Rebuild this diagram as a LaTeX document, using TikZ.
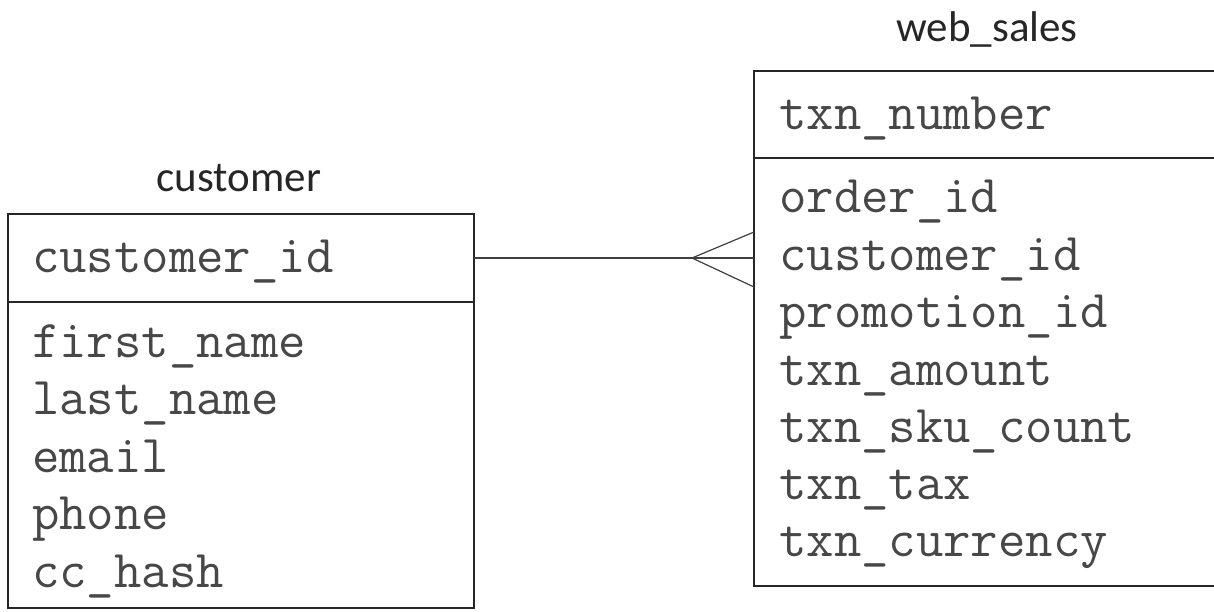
\documentclass[tikz,border=0pt]{standalone}
\usepackage{fontspec}
\setmainfont{Carlito}
\begin{document}
\begin{tikzpicture}[x=1pt,y=-1pt,
  tbox/.style={draw=black!85, line width=1.8pt, minimum width=#1, inner sep=0pt, outer sep=0pt},
  fld/.style={anchor=base west, inner sep=0pt, font=\ttfamily\fontsize{53.2}{53.2}\selectfont, text=black!72},
  ttl/.style={anchor=base, inner sep=0pt, font=\fontsize{43}{43}\selectfont, text=black!85},
  rel/.style={draw=black!75, line width=1.2pt}]
\useasboundingbox (0,0) rectangle (1214,612);
\clip (0,0) rectangle (1214,612);
% customer table
\node[tbox=466pt, minimum height=88pt] (chead) at (241,258) {};
\node[tbox=466pt, minimum height=306pt] (cbody) at (241,455) {};
\node[ttl] (ctitle) at (239,192) {customer};
\node[fld] (c0) at (32,272) {customer\_id};
\node[fld] (c1) at (32,357) {first\_name};
\node[fld] (c2) at (32,414.5) {last\_name};
\node[fld] (c3) at (32,472) {email};
\node[fld] (c4) at (32,529.5) {phone};
\node[fld] (c5) at (32,587) {cc\_hash};
% web_sales table
\node[tbox=476pt, minimum height=87pt] (whead) at (992,114.5) {};
\node[tbox=476pt, minimum height=428pt] (wbody) at (992,372) {};
\node[ttl] (wtitle) at (987,42) {web\_sales};
\node[fld] (w0) at (779,130) {txn\_number};
\node[fld] (w1) at (779,213) {order\_id};
\node[fld] (w2) at (779,270) {customer\_id};
\node[fld] (w3) at (779,327) {promotion\_id};
\node[fld] (w4) at (779,385) {txn\_amount};
\node[fld] (w5) at (779,442) {txn\_sku\_count};
\node[fld] (w6) at (779,499) {txn\_tax};
\node[fld] (w7) at (779,556) {txn\_currency};
% relationship (crow's foot)
\coordinate (fork) at (692,258);
\coordinate (ft) at (754,232);
\coordinate (fm) at (754,258);
\coordinate (fb) at (754,287);
\draw[rel] (chead.east) -- (fork);
\draw[rel] (fork) -- (ft);
\draw[rel] (fork) -- (fm);
\draw[rel] (fork) -- (fb);
\end{tikzpicture}
\end{document}
